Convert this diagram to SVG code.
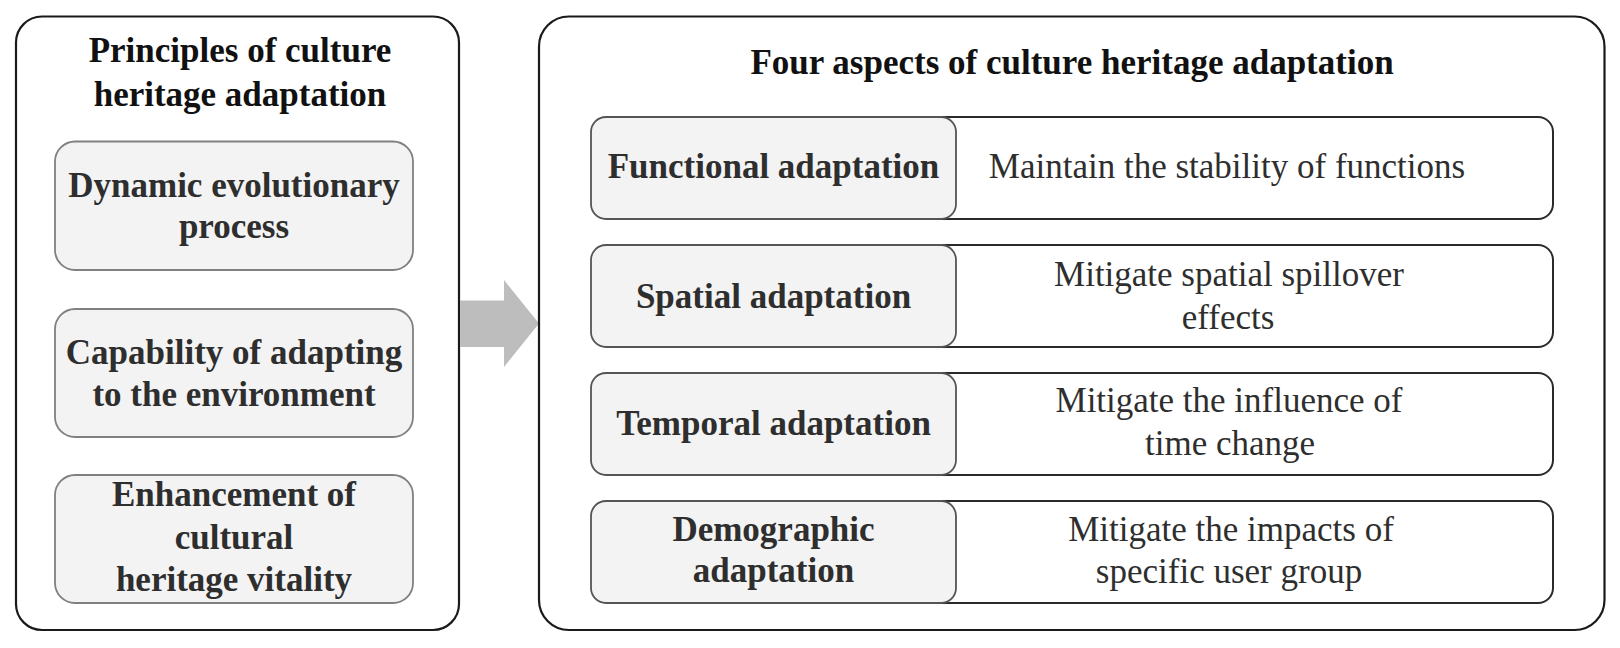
<svg xmlns="http://www.w3.org/2000/svg" width="1620" height="648" viewBox="0 0 1620 648">
<style>
text{font-family:"Liberation Serif","Times New Roman",serif;font-size:35px;text-anchor:middle}
.t{font-weight:bold;fill:#111}
.b{font-weight:bold;fill:#2e2e2e}
.r{fill:#2e2e2e}
.outer{fill:#fff;stroke:#1a1a1a;stroke-width:2.2}
.inner{fill:#f3f3f3;stroke:#808080;stroke-width:1.8}
.gray{fill:#f3f3f3;stroke:#555;stroke-width:1.8}
.white{fill:#fff;stroke:#2a2a2a;stroke-width:2}
</style>
<rect width="1620" height="648" fill="#fff"/>
<g id="left-panel">
<rect class="outer" x="16" y="16.5" width="443" height="613.5" rx="26"/>
<text class="t" x="240" y="62">Principles of culture</text>
<text class="t" x="240" y="106">heritage adaptation</text>
</g>
<g id="p1">
<rect class="inner" x="55" y="141.5" width="358" height="128.5" rx="20"/>
<text class="b" x="234" y="197">Dynamic evolutionary</text>
<text class="b" x="234" y="238">process</text>
</g>
<g id="p2">
<rect class="inner" x="55" y="309" width="358" height="128" rx="20"/>
<text class="b" x="234" y="364">Capability of adapting</text>
<text class="b" x="234" y="406">to the environment</text>
</g>
<g id="p3">
<rect class="inner" x="55" y="475" width="358" height="128" rx="20"/>
<text class="b" x="234" y="506">Enhancement of</text>
<text class="b" x="234" y="549">cultural</text>
<text class="b" x="234" y="591">heritage vitality</text>
</g>
<g id="connectors">
<polygon points="460,300.5 504,300.5 504,280 539,323.5 504,367 504,347 460,347" fill="#bdbdbd"/>
</g>
<g id="right-panel">
<rect class="outer" x="539" y="16.5" width="1065.5" height="613.5" rx="30"/>
<text class="t" x="1072" y="74">Four aspects of culture heritage adaptation</text>
</g>
<g id="a1">
<rect class="white" x="900" y="117" width="653" height="102" rx="15"/>
<rect class="gray" x="591" y="117" width="365" height="102" rx="15"/>
<text class="b" x="773.5" y="178">Functional adaptation</text>
<text class="r" x="1227" y="178">Maintain the stability of functions</text>
</g>
<g id="a2">
<rect class="white" x="900" y="245" width="653" height="102" rx="15"/>
<rect class="gray" x="591" y="245" width="365" height="102" rx="15"/>
<text class="b" x="773.5" y="308">Spatial adaptation</text>
<text class="r" x="1229" y="286">Mitigate spatial spillover</text>
<text class="r" x="1228" y="328.5">effects</text>
</g>
<g id="a3">
<rect class="white" x="900" y="373" width="653" height="102" rx="15"/>
<rect class="gray" x="591" y="373" width="365" height="102" rx="15"/>
<text class="b" x="773.5" y="435">Temporal adaptation</text>
<text class="r" x="1229" y="412">Mitigate the influence of</text>
<text class="r" x="1230" y="454.5">time change</text>
</g>
<g id="a4">
<rect class="white" x="900" y="501" width="653" height="102" rx="15"/>
<rect class="gray" x="591" y="501" width="365" height="102" rx="15"/>
<text class="b" x="773.5" y="541">Demographic</text>
<text class="b" x="773.5" y="582">adaptation</text>
<text class="r" x="1231" y="541">Mitigate the impacts of</text>
<text class="r" x="1229" y="583">specific user group</text>
</g>
</svg>
